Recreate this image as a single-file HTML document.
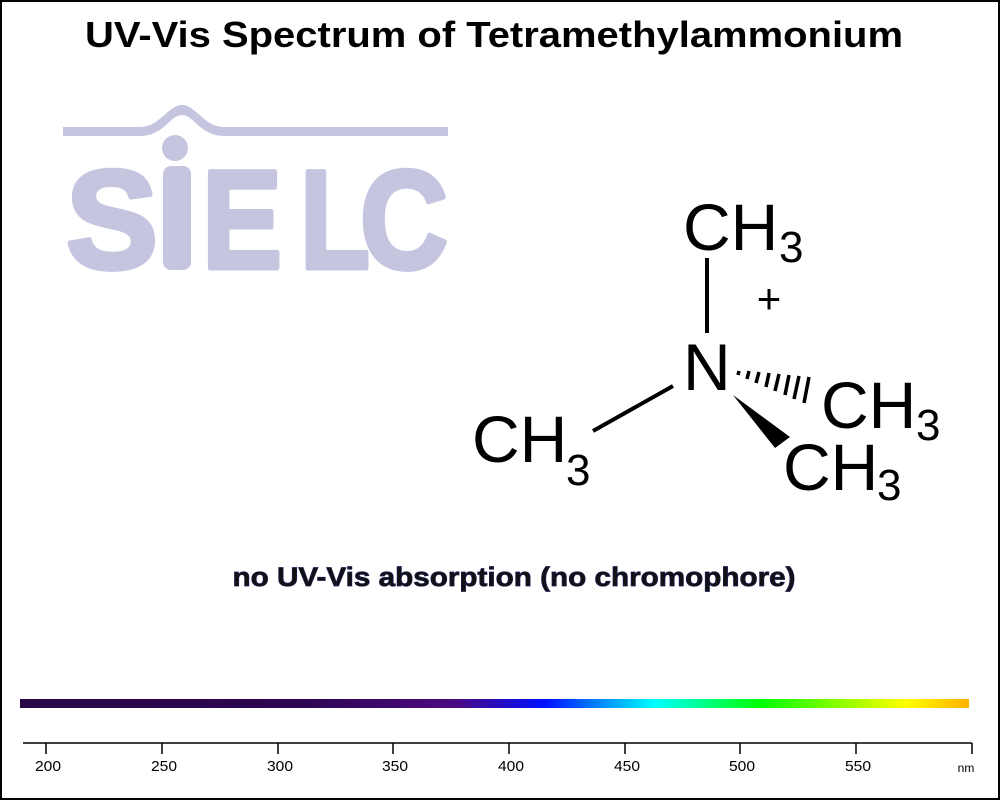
<!DOCTYPE html>
<html><head><meta charset="utf-8"><style>
html,body{margin:0;padding:0;background:#fff;}
svg{display:block;}
text{font-family:"Liberation Sans",Arial,sans-serif;}
</style></head><body>
<svg width="1000" height="800" viewBox="0 0 1000 800" xmlns="http://www.w3.org/2000/svg">
<defs>
<linearGradient id="sp" x1="0" x2="1" y1="0" y2="0">
<stop offset="0" stop-color="#2a0848"/>
<stop offset="0.3" stop-color="#2e0652"/>
<stop offset="0.458" stop-color="#4c0a82"/>
<stop offset="0.553" stop-color="#0010ff"/>
<stop offset="0.669" stop-color="#00ffff"/>
<stop offset="0.78" stop-color="#00ff00"/>
<stop offset="0.933" stop-color="#ffff00"/>
<stop offset="1" stop-color="#ffb000"/>
</linearGradient>
</defs>
<rect x="1" y="1" width="998" height="798" fill="#fff" stroke="#000" stroke-width="2"/>
<text x="494" y="47" text-anchor="middle" font-size="36" font-weight="bold" textLength="818" lengthAdjust="spacingAndGlyphs">UV-Vis Spectrum of Tetramethylammonium</text>

<!-- SIELC logo -->
<g fill="#c5c5e0" stroke="#c5c5e0" stroke-linejoin="round">
<path stroke="none" d="M63,127 L140,127 C160,127 168,105 182,105 C196,105 204,127 224,127 L448,127 L448,136 L224,136 C200,136 194,115 182,115 C170,115 164,136 140,136 L63,136 Z"/>
<circle stroke="none" cx="175" cy="148" r="13"/>
<text x="66" y="268" font-size="140" font-weight="bold" stroke-width="5" textLength="92" lengthAdjust="spacingAndGlyphs">S</text>
<rect stroke="none" x="163" y="166" width="28" height="104" rx="8"/>
<text x="202" y="268" font-size="140" font-weight="bold" stroke-width="5" textLength="80" lengthAdjust="spacingAndGlyphs">E</text>
<text x="300" y="268" font-size="140" font-weight="bold" stroke-width="5" textLength="70" lengthAdjust="spacingAndGlyphs">L</text>
<text x="360" y="268" font-size="140" font-weight="bold" stroke-width="5" textLength="88" lengthAdjust="spacingAndGlyphs">C</text>
</g>

<!-- molecule -->
<g fill="#000">
<text x="683" y="250" font-size="66">CH</text><text x="779" y="262" font-size="44">3</text>
<text x="683" y="390" font-size="66">N</text>
<text x="769" y="313" font-size="42" text-anchor="middle">+</text>
<text x="472" y="462" font-size="66">CH</text><text x="566" y="485" font-size="44">3</text>
<text x="821" y="428" font-size="66">CH</text><text x="916" y="440" font-size="44">3</text>
<text x="783" y="490" font-size="66">CH</text><text x="877" y="500" font-size="44">3</text>
<path d="M733,395 L775,448 L790,437 Z"/>
</g>
<g stroke="#000" stroke-width="4">
<line x1="707" y1="258" x2="707" y2="333"/>
<line x1="593" y1="431" x2="673" y2="386"/>
</g>
<g stroke="#000" stroke-width="3.5">
<line x1="739" y1="371" x2="738" y2="375"/>
<line x1="749" y1="371" x2="747" y2="379"/>
<line x1="759" y1="372" x2="756" y2="383"/>
<line x1="769" y1="373" x2="766" y2="387"/>
<line x1="779" y1="374" x2="775" y2="391"/>
<line x1="789" y1="375" x2="785" y2="395"/>
<line x1="799" y1="376" x2="794" y2="399"/>
<line x1="809" y1="377" x2="804" y2="403"/>
</g>

<text x="514" y="586" text-anchor="middle" font-size="27" font-weight="bold" fill="#111" stroke="#1a1a50" stroke-width="0.8" textLength="563" lengthAdjust="spacingAndGlyphs">no UV-Vis absorption (no chromophore)</text>

<!-- spectrum bar -->
<rect x="20" y="699" width="949" height="9" fill="url(#sp)"/>

<!-- axis -->
<g stroke="#000" stroke-width="1.5">
<line x1="23" y1="743" x2="972" y2="743"/>
<line x1="46" y1="743" x2="46" y2="754"/>
<line x1="162" y1="743" x2="162" y2="754"/>
<line x1="278" y1="743" x2="278" y2="754"/>
<line x1="393" y1="743" x2="393" y2="754"/>
<line x1="509" y1="743" x2="509" y2="754"/>
<line x1="625" y1="743" x2="625" y2="754"/>
<line x1="740" y1="743" x2="740" y2="754"/>
<line x1="856" y1="743" x2="856" y2="754"/>
<line x1="972" y1="743" x2="972" y2="754"/>
</g>
<g font-size="15" fill="#000" text-anchor="middle">
<text x="48" y="771" textLength="26" lengthAdjust="spacingAndGlyphs">200</text>
<text x="164" y="771" textLength="26" lengthAdjust="spacingAndGlyphs">250</text>
<text x="280" y="771" textLength="26" lengthAdjust="spacingAndGlyphs">300</text>
<text x="395" y="771" textLength="26" lengthAdjust="spacingAndGlyphs">350</text>
<text x="511" y="771" textLength="26" lengthAdjust="spacingAndGlyphs">400</text>
<text x="627" y="771" textLength="26" lengthAdjust="spacingAndGlyphs">450</text>
<text x="742" y="771" textLength="26" lengthAdjust="spacingAndGlyphs">500</text>
<text x="858" y="771" textLength="26" lengthAdjust="spacingAndGlyphs">550</text>
<text x="966" y="772" font-size="12">nm</text>
</g>
</svg>
</body></html>
